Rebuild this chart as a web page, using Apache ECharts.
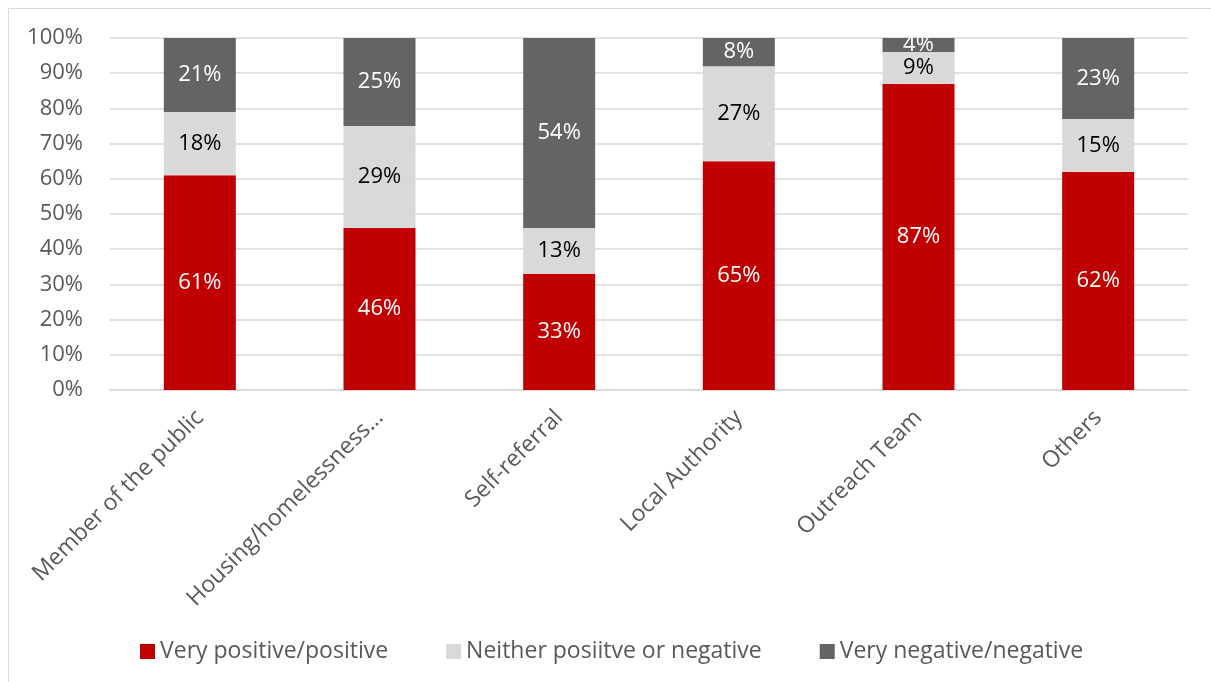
<!DOCTYPE html>
<html>
<head>
<meta charset="utf-8">
<script src="https://cdn.jsdelivr.net/npm/echarts@6/dist/echarts.min.js"></script>
<style>
  html, body { margin: 0; padding: 0; background: #fff; }
  #chart { width: 1211px; height: 682px; }
</style>
</head>
<body>
<div id="chart"></div>
<script>
// referral source categories
const categories = ['Member of the public', 'Housing/homelessness…', 'Self-referral', 'Local Authority', 'Outreach Team', 'Others']
const seriesNames = ['Very positive/positive', 'Neither posiitve or negative', 'Very negative/negative']
const positive = [61, 46, 33, 65, 87, 62]
const neutral = [18, 29, 13, 27, 9, 15]
const negative = [21, 25, 54, 8, 4, 23]
const yTicks = [0, 10, 20, 30, 40, 50, 60, 70, 80, 90, 100]

const colors = ['#c00000', '#d9d9d9', '#636466']
const labelColors = ['#ffffff', '#000000', '#ffffff']
const font = 'Open Sans'

const chart = echarts.init(document.getElementById('chart'))

const seriesData = [positive, neutral, negative].map((data, i) => ({
  name: seriesNames[i],
  type: 'bar',
  stack: 'total',
  barWidth: 72,
  data: data,
  itemStyle: { color: colors[i] },
  label: {
    show: true,
    position: 'inside',
    formatter: '{c}%',
    color: labelColors[i],
    fontFamily: font,
    fontSize: 22
  }
}))

chart.setOption({
  animation: false,
  graphic: [{
    type: 'rect',
    shape: { x: 8.5, y: 8.5, width: 1220, height: 700 },
    style: { fill: 'none', stroke: '#d9d9d9', lineWidth: 1 }
  }],
  legend: {
    data: seriesNames,
    top: 635,
    left: 135,
    icon: 'rect',
    itemWidth: 15,
    itemHeight: 15,
    itemGap: 58,
    textStyle: { color: '#595959', fontFamily: font, fontSize: 23 }
  },
  grid: { left: 110, right: 23, top: 38, bottom: 292 },
  xAxis: {
    type: 'category',
    data: categories,
    axisTick: { show: false },
    axisLine: { lineStyle: { color: '#d9d9d9', width: 1.5 } },
    axisLabel: {
      interval: 0,
      rotate: 45,
      margin: 24,
      color: '#595959',
      fontFamily: font,
      fontSize: 23
    }
  },
  yAxis: {
    type: 'value',
    min: 0,
    max: 100,
    interval: 10,
    axisLine: { show: false },
    axisTick: { show: false },
    splitLine: { lineStyle: { color: '#d9d9d9', width: 1.5 } },
    axisLabel: {
      margin: 27,
      color: '#595959',
      fontFamily: font,
      fontSize: 22,
      formatter: v => yTicks.includes(v) ? v + '%' : ''
    }
  },
  series: seriesData
})
</script>
</body>
</html>
